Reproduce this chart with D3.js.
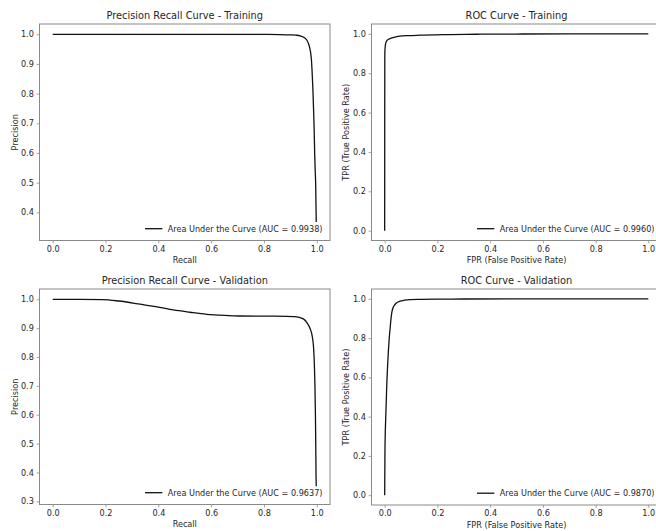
<!DOCTYPE html>
<html><head><meta charset="utf-8">
<script src="https://cdn.jsdelivr.net/npm/d3@7"></script>
<style>
body{margin:0;background:#fff}
svg{display:block}
text{font-family:"DejaVu Sans",sans-serif;fill:#262626}
</style>
</head><body>
<svg id="c" width="656" height="531"></svg>
<script>
// ---- data ----
const titles = ["Precision Recall Curve - Training", "ROC Curve - Training",
                "Precision Recall Curve - Validation", "ROC Curve - Validation"];
const xLabels = ["Recall", "FPR (False Positive Rate)", "Recall", "FPR (False Positive Rate)"];
const yLabels = ["Precision", "TPR (True Positive Rate)", "Precision", "TPR (True Positive Rate)"];
const legendLabels = ["Area Under the Curve (AUC = 0.9938)", "Area Under the Curve (AUC = 0.9960)",
                      "Area Under the Curve (AUC = 0.9637)", "Area Under the Curve (AUC = 0.9870)"];
const xTicks = [0, 0.2, 0.4, 0.6, 0.8, 1.0];
const yTicksPRTrain = [0.4, 0.5, 0.6, 0.7, 0.8, 0.9, 1.0];
const yTicksPRVal = [0.3, 0.4, 0.5, 0.6, 0.7, 0.8, 0.9, 1.0];
const yTicksROC = [0, 0.2, 0.4, 0.6, 0.8, 1.0];

const prTrainRecall    = [0, 0.1, 0.2, 0.3, 0.4, 0.5, 0.6, 0.7, 0.8, 0.86, 0.9, 0.92, 0.937, 0.948, 0.956, 0.963, 0.968, 0.973, 0.977, 0.98, 0.982, 0.985, 0.987, 0.99, 0.992, 0.994, 0.996, 0.997, 0.998];
const prTrainPrecision = [1, 1, 1, 1, 1, 1, 1, 0.9998, 0.9995, 0.999, 0.998, 0.997, 0.995, 0.991, 0.9865, 0.979, 0.970, 0.955, 0.936, 0.91, 0.879, 0.82, 0.767, 0.68, 0.598, 0.54, 0.485, 0.42, 0.367];

const prValRecall    = [0, 0.1, 0.19, 0.25, 0.331, 0.4, 0.457, 0.52, 0.583, 0.65, 0.709, 0.8, 0.886, 0.91, 0.93, 0.949, 0.962, 0.975, 0.981, 0.985, 0.988, 0.991, 0.993, 0.995, 0.996, 0.997, 0.998];
const prValPrecision = [1, 1, 0.999, 0.994, 0.983, 0.973, 0.963, 0.955, 0.948, 0.944, 0.942, 0.9415, 0.941, 0.940, 0.938, 0.932, 0.920, 0.898, 0.880, 0.858, 0.83, 0.77, 0.70, 0.588, 0.50, 0.40, 0.352];

const rocTrainFpr = [0, 0.0002, 0.0005, 0.002, 0.005, 0.01, 0.02, 0.035, 0.058, 0.09, 0.134, 0.19, 0.248, 0.35, 0.5, 0.7, 1.0];
const rocTrainTpr = [0, 0.6, 0.9, 0.935, 0.957, 0.968, 0.976, 0.982, 0.988, 0.991, 0.993, 0.995, 0.996, 0.998, 0.999, 1.0, 1.0];

const rocValFpr = [0, 0.001, 0.004, 0.008, 0.014, 0.023, 0.028, 0.033, 0.039, 0.047, 0.058, 0.075, 0.096, 0.14, 0.197, 0.3, 0.5, 1.0];
const rocValTpr = [0, 0.224, 0.394, 0.564, 0.733, 0.886, 0.937, 0.958, 0.971, 0.981, 0.988, 0.993, 0.996, 0.997, 0.998, 0.999, 1.0, 1.0];

// ---- layout ----
const panels = [
  {x: prTrainRecall, y: prTrainPrecision, yTicks: yTicksPRTrain, yDom: [0.305, 1.0347], left: 39.5, right: 330, top: 24, bottom: 240.5, ylx: 17.5},
  {x: rocTrainFpr, y: rocTrainTpr, yTicks: yTicksROC, yDom: [-0.05, 1.05], left: 371.5, right: 661.5, top: 24, bottom: 240.5, ylx: 349},
  {x: prValRecall, y: prValPrecision, yTicks: yTicksPRVal, yDom: [0.289, 1.0356], left: 39.5, right: 330, top: 289, bottom: 504.5, ylx: 17.5},
  {x: rocValFpr, y: rocValTpr, yTicks: yTicksROC, yDom: [-0.05, 1.05], left: 371.5, right: 661.5, top: 289, bottom: 505, ylx: 349}
];

const svg = d3.select("#c");
const spineColor = "#8a8a8a";
const tickFont = 8.15, titleFont = 9.8;

panels.forEach((p, i) => {
  const xs = d3.scaleLinear().domain([-0.05, 1.05]).range([p.left, p.right]);
  const ys = d3.scaleLinear().domain(p.yDom).range([p.bottom, p.top]);
  const g = svg.append("g");

  // curve
  const pts = p.x.map((v, k) => [v, p.y[k]]);
  g.append("path").datum(pts)
    .attr("d", d3.line().curve(d3.curveMonotoneX).x(d => xs(d[0])).y(d => ys(d[1])))
    .attr("fill", "none").attr("stroke", "#111").attr("stroke-width", 1.3)
    .attr("stroke-linejoin", "round");

  // axes
  const xa = g.append("g").attr("transform", `translate(0,${p.bottom})`)
    .call(d3.axisBottom(xs).tickValues(xTicks).tickFormat(d3.format(".1f")).tickSize(2.85).tickPadding(2.85).tickSizeOuter(0));
  const ya = g.append("g").attr("transform", `translate(${p.left},0)`)
    .call(d3.axisLeft(ys).tickValues(p.yTicks).tickFormat(d3.format(".1f")).tickSize(2.85).tickPadding(2.85).tickSizeOuter(0));
  [xa, ya].forEach(a => {
    a.select(".domain").remove();
    a.selectAll("line").attr("stroke", spineColor).attr("stroke-width", 0.8);
    a.selectAll("text").attr("font-size", tickFont).attr("fill", "#262626")
      .attr("font-family", '"DejaVu Sans",sans-serif');
  });

  // frame
  g.append("rect").attr("x", p.left).attr("y", p.top)
    .attr("width", p.right - p.left).attr("height", p.bottom - p.top)
    .attr("fill", "none").attr("stroke", spineColor).attr("stroke-width", 1);

  // title
  g.append("text").attr("x", (p.left + p.right) / 2).attr("y", p.top - 5)
    .attr("text-anchor", "middle").attr("font-size", titleFont).text(titles[i]);
  // x label
  g.append("text").attr("x", (p.left + p.right) / 2).attr("y", p.bottom + 22.5)
    .attr("text-anchor", "middle").attr("font-size", tickFont).text(xLabels[i]);
  // y label
  g.append("text").attr("transform", `translate(${p.ylx},${(p.top + p.bottom) / 2}) rotate(-90)`)
    .attr("text-anchor", "middle").attr("font-size", tickFont).text(yLabels[i]);

  // legend
  const lx = p.left + 128.2, ly = p.bottom - 11.8;
  g.append("line").attr("x1", p.left + 105.5).attr("x2", p.left + 122.8)
    .attr("y1", ly).attr("y2", ly).attr("stroke", "#111").attr("stroke-width", 1.3);
  g.append("text").attr("x", lx).attr("y", ly + 3).attr("font-size", tickFont).text(legendLabels[i]);
});
</script>
</body></html>
